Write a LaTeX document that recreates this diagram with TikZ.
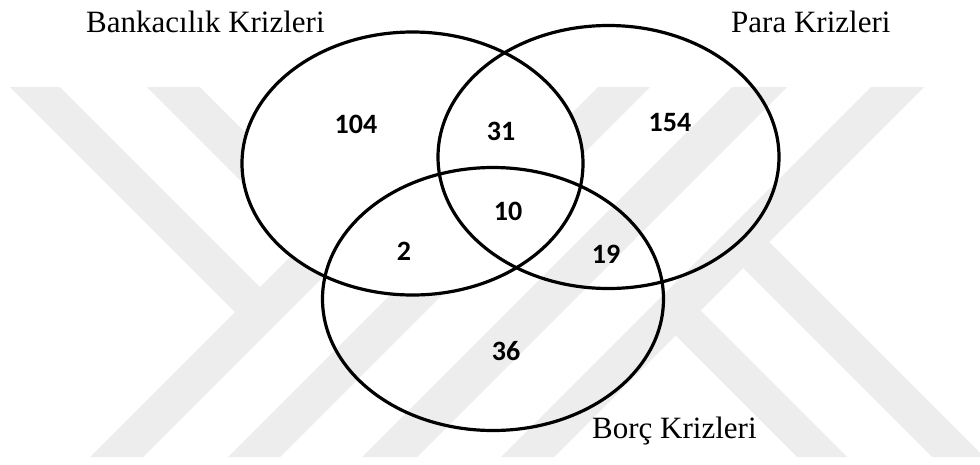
\documentclass[tikz,border=0pt]{standalone}
\usepackage{fontspec}
\setmainfont{Liberation Serif}
\newfontfamily\numfont{Carlito}
\usetikzlibrary{shapes.geometric}
\definecolor{wm}{RGB}{237,237,237}
\begin{document}
\begin{tikzpicture}[x=1pt,y=-1pt,
  wmark/.style={fill=wm,draw=none},
  venn/.style={ellipse,draw=black,line width=3.2pt,inner sep=0pt,minimum width=341pt,minimum height=263pt},
  num/.style={font=\numfont\bfseries\fontsize{28}{28}\selectfont,inner sep=0pt},
  lbl/.style={font=\fontsize{31}{31}\selectfont,inner sep=0pt,anchor=base west}]
\useasboundingbox (0,0) rectangle (980,464);
\fill[white] (0,0) rectangle (980,464);
% watermark
\fill[wmark] (10,87) -- (60,87) -- (260,287) -- (235,312) -- cycle;
\fill[wmark] (147,87) -- (200,87) -- (373,260) -- (320,260) -- cycle;
\fill[wmark] (90,457) -- (143,457) -- (450,150) -- (397,150) -- cycle;
\fill[wmark] (228,457) -- (280,457) -- (650,87) -- (598,87) -- cycle;
\fill[wmark] (362,457) -- (417,457) -- (787,87) -- (732,87) -- cycle;
\fill[wmark] (501,457) -- (554,457) -- (924,87) -- (871,87) -- cycle;
\fill[wmark] (769,242) -- (980,453) -- (980,457) -- (932,457) -- (743,268) -- cycle;
\fill[wmark] (700.5,310.5) -- (847,457) -- (797,457) -- (675.5,335.5) -- cycle;
% ellipses
\node[venn,fill=white] (bank) at (412.5,163.5) {};
\node[venn] (para) at (608.5,157) {};
\node[venn] (borc) at (493,299) {};
% labels
\node[lbl] (lbank) at (86,32) {Bankacılık Krizleri};
\node[lbl] (lpara) at (731,32) {Para Krizleri};
\node[lbl] (lborc) at (592,438) {Borç Krizleri};
% numbers
\node[num] (n104) at (356,124) {104};
\node[num] (n31) at (501,131) {31};
\node[num] (n154) at (670,122) {154};
\node[num] (n10) at (508,211) {10};
\node[num] (n2) at (404,251) {2};
\node[num] (n19) at (606,254) {19};
\node[num] (n36) at (506,351) {36};
\end{tikzpicture}
\end{document}
